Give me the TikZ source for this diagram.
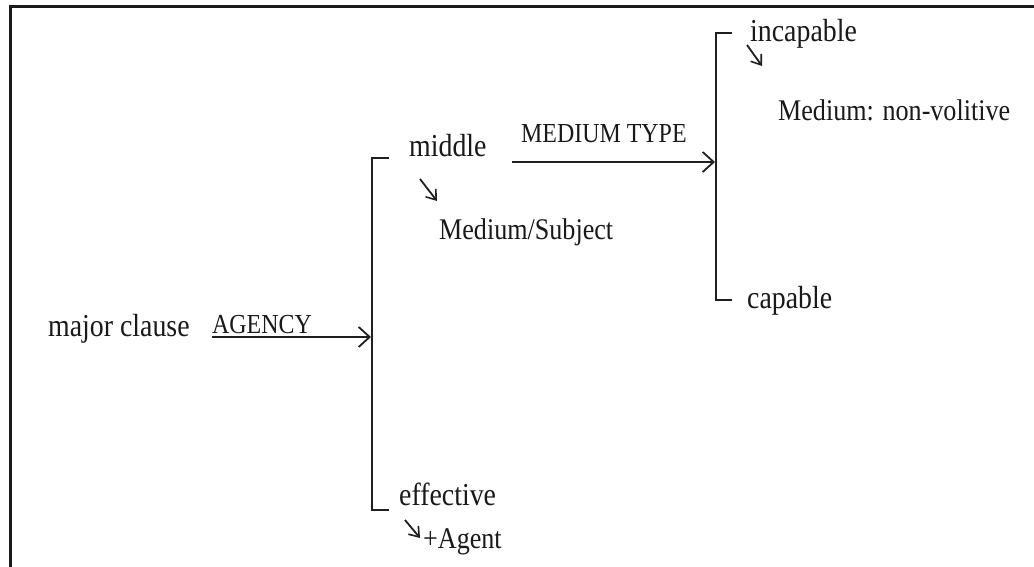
\documentclass[tikz,border=0pt]{standalone}
\usepackage{fontspec}
\setmainfont{Liberation Serif}[FakeStretch=0.87]
\usetikzlibrary{arrows.meta}
\begin{document}
\begin{tikzpicture}[x=1pt,y=-1pt,
  lbl/.style={anchor=base west,inner sep=0pt,text=black!90,font=\fontsize{32}{34}\selectfont},
  sublbl/.style={anchor=base west,inner sep=0pt,text=black!90,font=\fontsize{30}{32}\selectfont},
  caplbl/.style={anchor=base west,inner sep=0pt,text=black!90,font=\fontsize{27.5}{29}\selectfont},
  line/.style={line width=1.8pt,draw=black!88},
  arr/.style={line,-{Straight Barb[length=11pt,width=20pt,line width=1.8pt]}},
  smallarr/.style={line,-{Straight Barb[length=9pt,width=13pt,line width=1.6pt]}},
]
\useasboundingbox (0,0) rectangle (1034,567);
\fill[white] (0,0) rectangle (1034,567);
% frame (open at right and bottom)
\draw[line width=3pt,draw=black!90] (10,572) -- (10,7) -- (1040,7);

% labels
\node[lbl] (major) at (48,336) {major clause};
\node[caplbl] (agency) at (212,333) {AGENCY};
\node[lbl] (middle) at (409,157) {middle};
\node[caplbl] (mtype) at (521,143) {MEDIUM TYPE};
\node[sublbl] (medsubj) at (439,239) {Medium/Subject};
\node[lbl] (effective) at (399,505) {effective};
\node[sublbl] (agent) at (423,548) {+Agent};
\node[lbl] (incapable) at (750,42) {incapable};
\node[sublbl] (nonvol) at (778,121) {Medium: non-volitive};
\node[lbl] (capable) at (747,308) {capable};

% system brackets
\coordinate (lbTop) at (372,158);
\coordinate (lbBot) at (372,510);
\coordinate (lbIn) at (371,337);
\coordinate (rbTop) at (716,33);
\coordinate (rbBot) at (716,300);
\coordinate (rbIn) at (715,162);
\draw[line] ([xshift=17pt]lbTop) -- (lbTop) -- (lbBot) -- ([xshift=17pt]lbBot);
\draw[line] ([xshift=16pt]rbTop) -- (rbTop) -- (rbBot) -- ([xshift=16pt]rbBot);

% entry conditions
\draw[arr] (agency.south west |- lbIn) -- (lbIn);
\draw[arr] (mtype.west |- rbIn) ++(-9,0) -- (rbIn);

% realisation arrows
\coordinate (m1) at (420,179);
\coordinate (e1) at (405,520);
\coordinate (i1) at (747,45);
\draw[smallarr] (m1) -- (437,201);
\draw[smallarr] (e1) -- (420,538);
\draw[smallarr] (i1) -- (762,66);
\end{tikzpicture}
\end{document}
